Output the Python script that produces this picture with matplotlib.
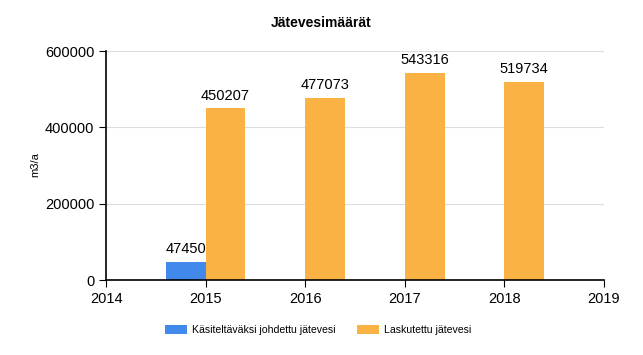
import matplotlib
matplotlib.use('Agg')
import matplotlib.pyplot as plt

plt.rcParams['font.family'] = ['Liberation Sans', 'DejaVu Sans']

years_blue = [2015]
values_blue = [47450]
years_orange = [2015, 2016, 2017, 2018]
values_orange = [450207, 477073, 543316, 519734]
label_blue = 'Käsiteltäväksi johdettu jätevesi'
label_orange = 'Laskutettu jätevesi'
blue = '#4189EA'
orange = '#F9B243'

fig = plt.figure(figsize=(6.43, 3.55), dpi=100)
ax = fig.add_axes([0.165, 0.211, 0.774, 0.645])

w = 0.4
# blue bars sit left of the year, orange bars right of it
b1 = ax.bar([y - w for y in years_blue], values_blue, width=w, align='edge', color=blue, label=label_blue)
b2 = ax.bar(years_orange, values_orange, width=w, align='edge', color=orange, label=label_orange)

for y, v in zip(years_blue, values_blue):
    ax.text(y - w / 2, v + 15000, str(v), ha='center', va='bottom', fontsize=10.5)
for y, v in zip(years_orange, values_orange):
    ax.text(y + w / 2, v + 15000, str(v), ha='center', va='bottom', fontsize=10.5)

ax.set_xlim(2014, 2019)
ax.set_ylim(0, 600000)
ax.set_xticks(range(2014, 2020))
ax.set_yticks([0, 200000, 400000, 600000])
ax.tick_params(labelsize=10.5, length=5, color='black')
ax.yaxis.grid(True, color='#dddddd', linewidth=0.8)
ax.set_axisbelow(True)
for s in ['top', 'right']:
    ax.spines[s].set_visible(False)
ax.spines['left'].set_linewidth(1.2)
ax.spines['bottom'].set_linewidth(1.2)

fig.text(35 / 643, 1 - 165 / 355, 'm3/a', rotation=90, ha='center', va='center', fontsize=8)
fig.suptitle('Jätevesimäärät', fontsize=10, fontweight='bold', y=0.955)

fig.legend(handles=[b1, b2], labels=[label_blue, label_orange], loc='center', bbox_to_anchor=(0.495, 0.07),
           ncol=2, frameon=False, fontsize=7.6, handlelength=2.1, handleheight=1.0, columnspacing=2.0,
           handletextpad=0.5)

fig.savefig('out.png', dpi=100)
